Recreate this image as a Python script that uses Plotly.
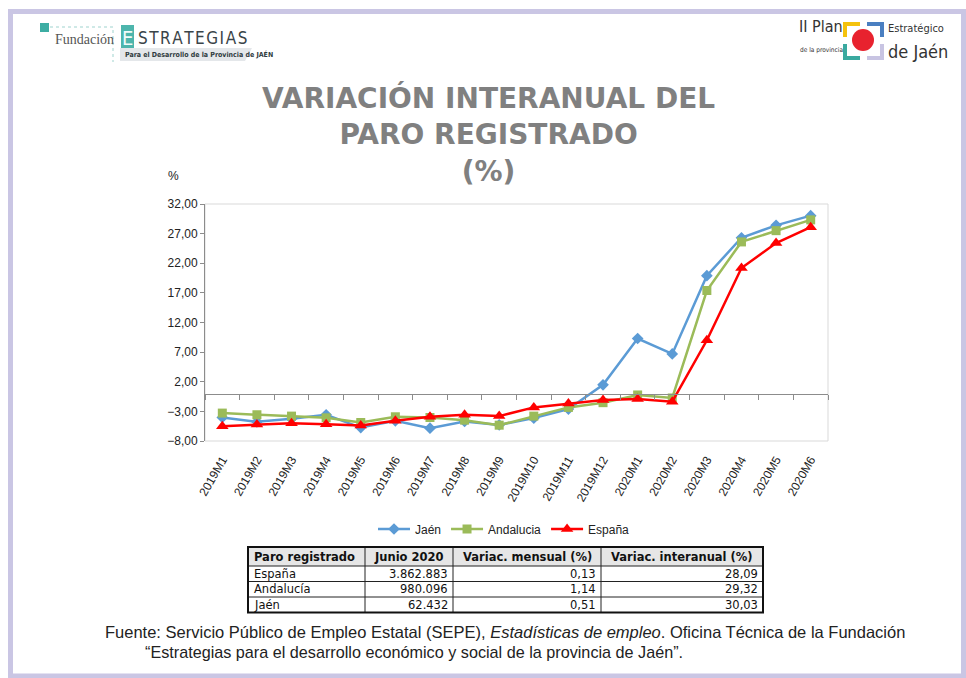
import plotly.graph_objects as go

# ---------------- data ----------------
months = ["2019M1", "2019M2", "2019M3", "2019M4", "2019M5", "2019M6", "2019M7", "2019M8",
          "2019M9", "2019M10", "2019M11", "2019M12", "2020M1", "2020M2", "2020M3", "2020M4",
          "2020M5", "2020M6"]
jaen = [-4.03, -4.77, -4.26, -3.57, -5.73, -4.60, -5.84, -4.71, -5.28, -4.14, -2.61, 1.48,
        9.30, 6.70, 19.90, 26.30, 28.40, 30.03]
andalucia = [-3.29, -3.57, -3.80, -4.09, -4.88, -3.91, -4.03, -4.48, -5.33, -3.80, -2.33, -1.53,
             -0.23, -0.74, 17.40, 25.60, 27.50, 29.32]
espana = [-5.50, -5.22, -4.99, -5.16, -5.39, -4.60, -3.91, -3.57, -3.80, -2.33, -1.65, -1.08,
          -0.91, -1.36, 9.00, 21.20, 25.40, 28.09]
y_ticks = [-8, -3, 2, 7, 12, 17, 22, 27, 32]

table_header = ["Paro registrado", "Junio 2020", "Variac. mensual (%)", "Variac. interanual (%)"]
table_regions = ["España", "Andalucía", "Jaén"]
table_junio = [3862883, 980096, 62432]
table_mensual = [0.13, 1.14, 0.51]
table_interanual = [28.09, 29.32, 30.03]

W, H = 966, 678


def px(x):
    return x / W


def py(y):
    return 1 - y / H


def es_int(v):
    return f"{v:,}".replace(",", ".")


def es_dec(v):
    return f"{v:.2f}".replace(".", ",")


xs = list(range(len(months)))

fig = go.Figure()
fig.add_trace(go.Scatter(x=xs, y=jaen, name="Jaén", mode="lines+markers",
                         line=dict(color="#5B9BD5", width=2.5),
                         marker=dict(symbol="diamond", size=9, color="#5B9BD5")))
fig.add_trace(go.Scatter(x=xs, y=andalucia, name="Andalucia", mode="lines+markers",
                         line=dict(color="#9BBB59", width=2.5),
                         marker=dict(symbol="square", size=9, color="#9BBB59")))
fig.add_trace(go.Scatter(x=xs, y=espana, name="España", mode="lines+markers",
                         line=dict(color="#FF0000", width=2.5),
                         marker=dict(symbol="triangle-up", size=11, color="#FF0000")))
# invisible trace that carries the tick marks on the zero line
fig.add_trace(go.Scatter(x=xs, y=[0] * len(xs), xaxis="x2", yaxis="y", mode="lines",
                         line=dict(width=0, color="rgba(0,0,0,0)"), showlegend=False,
                         hoverinfo="skip"))

x_dom = [px(205), px(828)]
y_dom = [py(441), py(204)]
ymin, ymax = -8, 32
zero_pos = y_dom[0] + (0 - ymin) / (ymax - ymin) * (y_dom[1] - y_dom[0])

axis_font = dict(family="Liberation Sans, Arial, sans-serif", size=12, color="#222222")

fig.update_layout(
    width=W, height=H, margin=dict(l=0, r=0, t=0, b=0, autoexpand=False),
    paper_bgcolor="white", plot_bgcolor="white",
    separators=",.",
    showlegend=True,
    legend=dict(orientation="h", x=px(504), xanchor="center", y=py(529), yanchor="middle",
                font=axis_font, bgcolor="rgba(0,0,0,0)", itemwidth=32, tracegroupgap=0),
    xaxis=dict(domain=x_dom, range=[-0.5, len(months) - 0.5], tickmode="array",
               tickvals=xs, ticktext=months, tickangle=-60, tickfont=axis_font,
               showgrid=False, zeroline=False, showline=False, ticks="outside",
               ticklen=6, tickcolor="rgba(0,0,0,0)", anchor="y", automargin=False),
    xaxis2=dict(domain=x_dom, range=[-0.5, len(months) - 0.5], overlaying="x",
                anchor="free", position=zero_pos, side="bottom",
                tickmode="array", tickvals=[i + 0.5 for i in range(-1, len(months))],
                showticklabels=False, ticks="outside", ticklen=5, tickcolor="#8C8C8C",
                showline=True, linecolor="#8C8C8C", linewidth=1, showgrid=False,
                zeroline=False, automargin=False),
    yaxis=dict(domain=y_dom, range=[ymin, ymax], tickmode="array", tickvals=y_ticks,
               tickformat=".2f", tickfont=axis_font, showgrid=False, zeroline=False,
               showline=True, linecolor="#8C8C8C", linewidth=1, ticks="outside",
               ticklen=4, tickcolor="#8C8C8C", automargin=False),
)

shapes = []
ann = []
# plot area frame
shapes.append(dict(type="rect", xref="x domain", yref="y domain", x0=0, x1=1, y0=0, y1=1,
                   line=dict(color="#D9D9D9", width=1), layer="below"))
# page frame
shapes.append(dict(type="rect", xref="paper", yref="paper", x0=px(10.5), x1=px(963.5),
                   y0=py(676), y1=py(11.5), line=dict(color="#CAC6E4", width=5)))

# ---- table (drawn from the table arrays) ----
col_edges = [248, 365, 453, 601, 763]
row_edges = [547, 566, 581.5, 597, 612.5]
shapes.append(dict(type="rect", xref="paper", yref="paper", x0=px(col_edges[0]),
                   x1=px(col_edges[-1]), y0=py(row_edges[1]), y1=py(row_edges[0]),
                   fillcolor="#E6E6E6", line=dict(width=0), layer="below"))
for xe in col_edges[1:-1]:
    shapes.append(dict(type="line", xref="paper", yref="paper", x0=px(xe), x1=px(xe),
                       y0=py(row_edges[-1]), y1=py(row_edges[0]),
                       line=dict(color="#222222", width=1)))
for ye in row_edges[1:-1]:
    shapes.append(dict(type="line", xref="paper", yref="paper", x0=px(col_edges[0]),
                       x1=px(col_edges[-1]), y0=py(ye), y1=py(ye),
                       line=dict(color="#222222", width=1)))
shapes.append(dict(type="rect", xref="paper", yref="paper", x0=px(col_edges[0]),
                   x1=px(col_edges[-1]), y0=py(row_edges[-1]), y1=py(row_edges[0]),
                   line=dict(color="#111111", width=2)))
tfont_b = dict(family="DejaVu Sans, Verdana, sans-serif", size=11.5, color="#111111")
tfont = dict(family="DejaVu Sans, Verdana, sans-serif", size=11.5, color="#111111")
hy = (row_edges[0] + row_edges[1]) / 2
for i, h in enumerate(table_header):
    if i == 0:
        ann.append(dict(xref="paper", yref="paper", x=px(col_edges[0] + 4), y=py(hy),
                        xanchor="left", yanchor="middle", showarrow=False,
                        text=f"<b>{h}</b>", font=tfont_b))
    else:
        ann.append(dict(xref="paper", yref="paper", x=px((col_edges[i] + col_edges[i + 1]) / 2),
                        y=py(hy), xanchor="center", yanchor="middle", showarrow=False,
                        text=f"<b>{h}</b>", font=tfont_b))
body_cols = [table_regions,
             [es_int(v) for v in table_junio],
             [es_dec(v) for v in table_mensual],
             [es_dec(v) for v in table_interanual]]
for r in range(len(table_regions)):
    ry = (row_edges[r + 1] + row_edges[r + 2]) / 2
    for c, col in enumerate(body_cols):
        if c == 0:
            ann.append(dict(xref="paper", yref="paper", x=px(col_edges[0] + 4), y=py(ry),
                            xanchor="left", yanchor="middle", showarrow=False,
                            text=col[r], font=tfont))
        else:
            ann.append(dict(xref="paper", yref="paper", x=px(col_edges[c + 1] - 3), y=py(ry),
                            xanchor="right", yanchor="middle", showarrow=False,
                            text=col[r], font=tfont))

# ---- left logo ----
shapes.append(dict(type="rect", xref="paper", yref="paper", x0=px(40), x1=px(49),
                   y0=py(32), y1=py(23), fillcolor="#3DADA3", line=dict(width=0)))
shapes.append(dict(type="path", xref="paper", yref="paper",
                   path=f"M {px(50)},{py(27)} L {px(113)},{py(27)} L {px(113)},{py(62)}",
                   line=dict(color="#9FD3CE", width=1, dash="dot")))
shapes.append(dict(type="rect", xref="paper", yref="paper", x0=px(121), x1=px(134),
                   y0=py(50), y1=py(25), fillcolor="#4DB5AC", line=dict(width=0)))
shapes.append(dict(type="path", xref="paper", yref="paper",
                   path=(f"M {px(120)},{py(48)} L {px(252)},{py(48)} L {px(245)},{py(61)} "
                         f"L {px(120)},{py(61)} Z"),
                   fillcolor="#E4E7EA", line=dict(width=0)))


# ---- right logo ----
def corner(path, color):
    shapes.append(dict(type="path", xref="paper", yref="paper", path=path,
                       line=dict(color=color, width=4)))


corner(f"M {px(845)},{py(37)} L {px(845)},{py(24)} L {px(860)},{py(24)}", "#F4C20D")
corner(f"M {px(867)},{py(24)} L {px(882)},{py(24)} L {px(882)},{py(37)}", "#4A7FC1")
corner(f"M {px(845)},{py(44)} L {px(845)},{py(58)} L {px(860)},{py(58)}", "#3AA99F")
corner(f"M {px(867)},{py(58)} L {px(882)},{py(58)} L {px(882)},{py(44)}", "#C8C4E2")
shapes.append(dict(type="circle", xref="paper", yref="paper", x0=px(852), x1=px(874),
                   y0=py(51), y1=py(29), fillcolor="#E8222E", line=dict(width=0)))

fig.update_layout(shapes=shapes)

title_font = dict(family="DejaVu Sans, Verdana, sans-serif", size=28, color="#808080")
ann.append(dict(xref="paper", yref="paper", x=px(488), y=py(135), xanchor="center",
                yanchor="middle", showarrow=False, align="center", font=title_font,
                text="<b>VARIACIÓN INTERANUAL DEL<br>PARO REGISTRADO<br>(%)</b>"))
ann.append(dict(xref="paper", yref="paper", x=px(173), y=py(176), xanchor="center",
                yanchor="middle", showarrow=False, text="%", font=axis_font))
foot_font = dict(family="Liberation Sans, Arial, sans-serif", size=16.5, color="#222222")
foot_font2 = dict(family="Liberation Sans, Arial, sans-serif", size=16.2, color="#222222")
ann.append(dict(xref="paper", yref="paper", x=px(103), y=py(632), xanchor="left",
                yanchor="middle", showarrow=False, font=foot_font,
                text=("Fuente: Servicio Público de Empleo Estatal (SEPE), "
                      "<i>Estadísticas de empleo</i>. Oficina Técnica de la Fundación")))
ann.append(dict(xref="paper", yref="paper", x=px(143), y=py(652), xanchor="left",
                yanchor="middle", showarrow=False, font=foot_font2,
                text="“Estrategias para el desarrollo económico y social de la provincia de Jaén”."))
# left logo texts
ann.append(dict(xref="paper", yref="paper", x=px(53), y=py(40), xanchor="left",
                yanchor="middle", showarrow=False, text="Fundación",
                font=dict(family="Liberation Serif, serif", size=14, color="#555555")))
ann.append(dict(xref="paper", yref="paper", x=px(127.5), y=py(37.5), xanchor="center",
                yanchor="middle", showarrow=False, text="E",
                font=dict(family="DejaVu Sans Condensed, sans-serif", size=20, color="#F2FBFA")))
ann.append(dict(xref="paper", yref="paper", x=px(136), y=py(37.5), xanchor="left",
                yanchor="middle", showarrow=False, text="\u200a".join("STRATEGIAS"),
                font=dict(family="DejaVu Sans Condensed, sans-serif", size=17, color="#3A4448")))
ann.append(dict(xref="paper", yref="paper", x=px(123), y=py(54.5), xanchor="left",
                yanchor="middle", showarrow=False,
                text="<b>Para el Desarrollo de la Provincia de JAÉN</b>",
                font=dict(family="DejaVu Sans Condensed, sans-serif", size=7, color="#2F3B40")))
# right logo texts
ann.append(dict(xref="paper", yref="paper", x=px(797), y=py(27), xanchor="left",
                yanchor="middle", showarrow=False, text="II Plan",
                font=dict(family="DejaVu Sans Condensed, sans-serif", size=16, color="#333333")))
ann.append(dict(xref="paper", yref="paper", x=px(798), y=py(50), xanchor="left",
                yanchor="middle", showarrow=False, text="de la provincia",
                font=dict(family="DejaVu Sans Condensed, sans-serif", size=6.5, color="#333333")))
ann.append(dict(xref="paper", yref="paper", x=px(886), y=py(29), xanchor="left",
                yanchor="middle", showarrow=False, text="Estratégico",
                font=dict(family="DejaVu Sans Condensed, sans-serif", size=11, color="#333333")))
ann.append(dict(xref="paper", yref="paper", x=px(886), y=py(51), xanchor="left",
                yanchor="middle", showarrow=False, text="de Jaén",
                font=dict(family="DejaVu Sans Condensed, sans-serif", size=18, color="#333333")))
fig.update_layout(annotations=ann)

fig.write_html("out.html", config={"displayModeBar": False},
               post_script="document.body.style.margin='0px';document.body.style.overflow='hidden';")
